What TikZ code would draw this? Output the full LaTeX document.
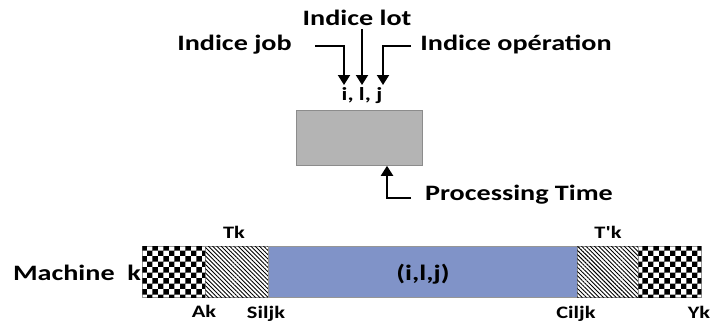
\documentclass[tikz,border=0pt]{standalone}
\usepackage{fontspec}
\setmainfont{Carlito}
\usepackage{graphicx}
\usetikzlibrary{arrows.meta,patterns,patterns.meta}
\definecolor{boxgray}{RGB}{180,180,180}
\definecolor{boxedge}{RGB}{140,140,140}
\definecolor{barblue}{RGB}{128,147,200}
\definecolor{baredge}{RGB}{150,150,150}
\newcommand\wtxt[1]{\scalebox{1.28}[1]{#1}}
\tikzset{
  big/.style={font=\bfseries\fontsize{22}{24}\selectfont, inner sep=0pt, anchor=base},
  small/.style={font=\bfseries\fontsize{17.5}{20}\selectfont, inner sep=0pt, anchor=base},
  arr/.style={line width=2pt, -{Triangle[width=12pt,length=10pt]}},
  checkbox/.style={draw=baredge, line width=0.6pt, fill=white, postaction={pattern=checkerboard, pattern color=black}},
  hatchbox/.style={draw=baredge, line width=0.6pt, fill=white, postaction={pattern={Lines[angle=-45,distance=3pt,line width=0.9pt]}, pattern color=black}},
}
\begin{document}
\begin{tikzpicture}[x=1pt,y=-1pt]
\useasboundingbox (0,0) rectangle (711,322);
% top labels
\node[big] (job) at (234.5,50) {\wtxt{Indice job}};
\node[big] (lot) at (357,25) {\wtxt{Indice lot}};
\node[big] (op) at (516,50) {\wtxt{Indice opération}};
\node[font=\bfseries\fontsize{18.5}{21}\selectfont, inner sep=0pt, anchor=base] (ilj) at (362,100) {\wtxt{i, l, j}};
% processing box
\node[draw=boxedge, line width=0.8pt, fill=boxgray, minimum width=126pt, minimum height=55pt, inner sep=0pt, anchor=north west] (proc) at (296,110) {};
\node[big] (pt) at (519,200) {\wtxt{Processing Time}};
% arrow corner coordinates
\coordinate (jobA) at (315,46);
\coordinate (jobB) at (344,46);
\coordinate (jobT) at (344,85);
\coordinate (lotA) at (362,29);
\coordinate (lotT) at (362,85);
\coordinate (opA) at (411,46);
\coordinate (opB) at (383,46);
\coordinate (opT) at (383,85);
\coordinate (ptA) at (411,198);
\coordinate (ptB) at (387,198);
\draw[arr] (jobA) -- (jobB) -- (jobT);
\draw[arr] (lotA) -- (lotT);
\draw[arr] (opA) -- (opB) -- (opT);
\draw[arr] (ptA) -- (ptB) -- (ptB |- proc.south);
% machine bar
\node[checkbox, minimum width=63pt, minimum height=51pt, inner sep=0pt, anchor=north west] (ak) at (142,246) {};
\node[hatchbox, minimum width=63pt, minimum height=51pt, inner sep=0pt, anchor=north west] (tk) at (205,246) {};
\node[draw=baredge, line width=0.6pt, fill=barblue, minimum width=309pt, minimum height=51pt, inner sep=0pt, anchor=north west] (job1) at (268,246) {};
\node[hatchbox, minimum width=61pt, minimum height=51pt, inner sep=0pt, anchor=north west] (tpk) at (577,246) {};
\node[checkbox, minimum width=63pt, minimum height=51pt, inner sep=0pt, anchor=north west] (yk) at (638,246) {};
\node[big] (iljb) at (423,280) {\wtxt{(i,l,j)}};
\node[big] (mk) at (77,280) {\wtxt{Machine\ \ k}};
\node[small] (tkl) at (234,238) {\wtxt{Tk}};
\node[small] (tpkl) at (608,238) {\wtxt{T\textquotesingle k}};
\node[small] (akl) at (204,317) {\wtxt{Ak}};
\node[small] (sl) at (266,318) {\wtxt{Siljk}};
\node[small] (cl) at (576,318) {\wtxt{Ciljk}};
\node[small] (ykl) at (699,318.5) {\wtxt{Yk}};
\end{tikzpicture}
\end{document}
